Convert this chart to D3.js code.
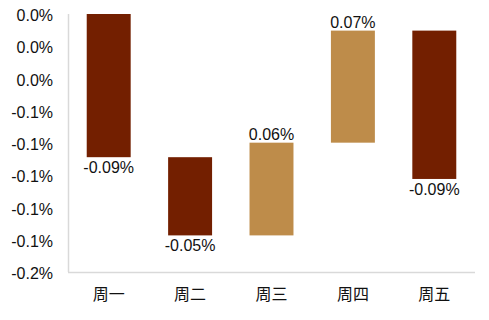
<!DOCTYPE html>
<html>
<head>
<meta charset="utf-8">
<script src="https://cdn.jsdelivr.net/npm/d3@7"></script>
<style>
  body { margin: 0; background: #fff; }
  svg text { font-family: "Liberation Sans", Arial, "Noto Sans CJK SC", sans-serif; fill: #111; }
</style>
</head>
<body>
<div id="chart"></div>
<script>
// daily changes, in percent
var days = ["周一", "周二", "周三", "周四", "周五"];
var changes = [-0.0888, -0.0485, 0.0575, 0.0695, -0.092];
var yTicks = [0, -0.02, -0.04, -0.06, -0.08, -0.10, -0.12, -0.14, -0.16];

var width = 489, height = 320;
var svg = d3.select("#chart").append("svg")
    .attr("width", width)
    .attr("height", height);

var plotLeft = 68, plotRight = 475, plotTop = 14, plotBottom = 272;

var x = d3.scaleBand().domain(days).range([plotLeft, plotRight]).paddingInner(0.46).paddingOuter(0.23);
var y = d3.scaleLinear().domain([-0.16, 0]).range([plotBottom, plotTop]);

// running totals for the waterfall
var rows = [];
var total = 0;
changes.forEach(function(c, i) {
    var start = total;
    total += c;
    rows.push({ day: days[i], start: start, end: total, change: c });
});

function fmtAxis(v) {
    var r = Math.round(v * 10) / 10;
    if (r === 0) r = 0;
    return r.toFixed(1) + "%";
}

// axis frame
svg.append("line")
    .attr("x1", plotLeft + 0.5).attr("x2", plotLeft + 0.5)
    .attr("y1", plotTop).attr("y2", plotBottom)
    .attr("stroke", "#d9d9d9").attr("stroke-width", 1.5);
svg.append("line")
    .attr("x1", plotLeft).attr("x2", plotRight)
    .attr("y1", plotBottom + 0.5).attr("y2", plotBottom + 0.5)
    .attr("stroke", "#d9d9d9").attr("stroke-width", 1.5);

var yAxis = d3.axisLeft(y).tickValues(yTicks).tickFormat(fmtAxis).tickSize(0).tickPadding(15);
svg.append("g")
    .attr("transform", "translate(" + plotLeft + ",0)")
    .call(yAxis)
    .call(function(g) { g.select(".domain").remove(); })
    .selectAll("text")
    .attr("dy", "0.42em")
    .style("font-size", "16px");

var xAxis = d3.axisBottom(x).tickSize(0).tickPadding(17);
svg.append("g")
    .attr("transform", "translate(0," + plotBottom + ")")
    .call(xAxis)
    .call(function(g) { g.select(".domain").remove(); })
    .selectAll("text")
    .style("font-size", "16px");

svg.selectAll("rect.bar")
    .data(rows)
    .enter().append("rect")
    .attr("class", "bar")
    .attr("x", function(d) { return x(d.day); })
    .attr("width", x.bandwidth())
    .attr("y", function(d) { return y(Math.max(d.start, d.end)); })
    .attr("height", function(d) { return Math.abs(y(d.start) - y(d.end)); })
    .attr("fill", function(d) { return d.change < 0 ? "#731f00" : "#be8c4a"; });

svg.selectAll("text.lbl")
    .data(rows)
    .enter().append("text")
    .attr("class", "lbl")
    .attr("x", function(d) { return x(d.day) + x.bandwidth() / 2; })
    .attr("y", function(d) {
        return d.change < 0 ? y(d.end) + 16 : y(d.end) - 3;
    })
    .attr("text-anchor", "middle")
    .style("font-size", "16px")
    .text(function(d) { return d.change.toFixed(2) + "%"; });
</script>
</body>
</html>
